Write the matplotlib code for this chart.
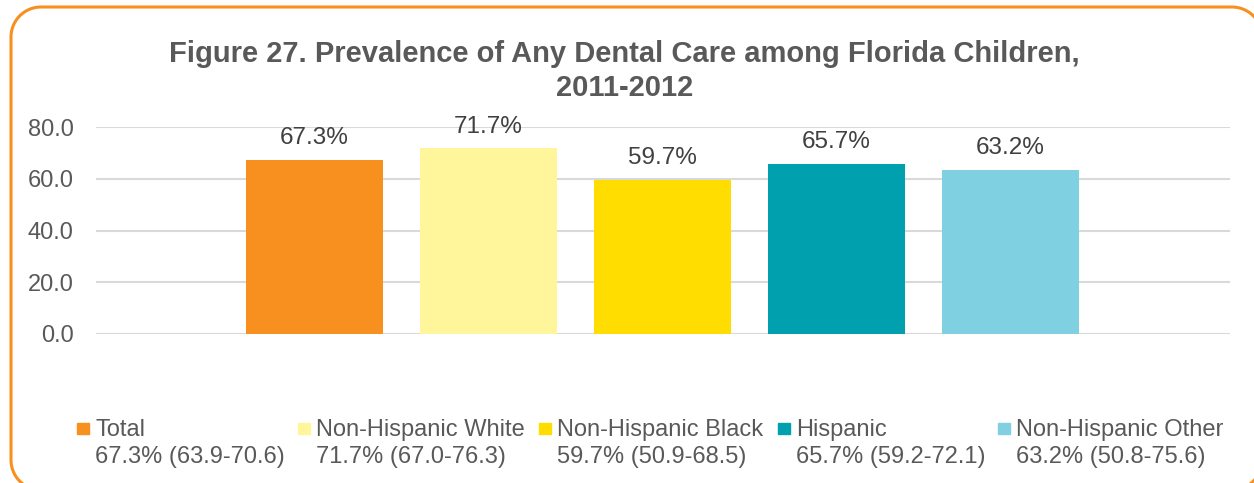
import numpy as np
import matplotlib.pyplot as plt
from matplotlib.patches import Polygon, Rectangle

# datos de la figura
grupos = ['Total', 'Non-Hispanic White', 'Non-Hispanic Black', 'Hispanic', 'Non-Hispanic Other']
valores = [67.3, 71.7, 59.7, 65.7, 63.2]
intervalos = ['67.3% (63.9-70.6)', '71.7% (67.0-76.3)', '59.7% (50.9-68.5)',
              '65.7% (59.2-72.1)', '63.2% (50.8-75.6)']
colores = ['#F7901E', '#FFF59A', '#FFDD00', '#00A0AF', '#7FD0E0']
yticks = [0, 20, 40, 60, 80]

gris = '#595959'
plt.rcParams['font.family'] = ['Liberation Sans', 'DejaVu Sans']

W, H = 1254, 483
fig = plt.figure(figsize=(W / 100, H / 100), dpi=100)

# marco redondeado naranja (en pixeles, y hacia abajo)
def marco_redondeado(x0, y0, x1, y1, r):
    pts = []
    esquinas = [(x1 - r, y0 + r, -90, 0), (x1 - r, y1 - r, 0, 90),
                (x0 + r, y1 - r, 90, 180), (x0 + r, y0 + r, 180, 270)]
    for cx, cy, a0, a1 in esquinas:
        a = np.radians(np.linspace(a0, a1, 20))
        pts += list(zip(cx + r * np.cos(a), cy + r * np.sin(a)))
    return [(px / W, 1 - py / H) for px, py in pts]

fig.patches.append(Polygon(marco_redondeado(11, 7, 1262, 490, 30), closed=True,
                           fill=False, edgecolor='#F7901E', linewidth=2.2,
                           transform=fig.transFigure))

ax = fig.add_axes([96 / W, 1 - 334 / H, 1134 / W, 207 / H])
x = list(range(len(valores)))
ax.bar(x, valores, width=137 / 174, color=colores, zorder=3)
for xi, v in zip(x, valores):
    ax.annotate('%.1f%%' % v, (xi, v), xytext=(0, 11.5), textcoords='offset points',
                ha='center', va='baseline', fontsize=17.5, color='#404040')

ax.set_xlim(-1.256, 5.261)
ax.set_ylim(0, 80)
ax.set_yticks(yticks)
ax.set_yticklabels(['%.1f' % t for t in yticks])
ax.tick_params(axis='y', length=0, pad=16, labelsize=17, labelcolor=gris)
ax.set_xticks([])
ax.grid(axis='y', color='#D9D9D9', linewidth=1.5, zorder=0)
for s in ax.spines.values():
    s.set_visible(False)
ax.set_facecolor('none')

fig.text(624.5 / W, 1 - 62 / H, 'Figure 27. Prevalence of Any Dental Care among Florida Children,',
         ha='center', va='baseline', fontsize=21, fontweight='bold', color=gris)
fig.text(624.5 / W, 1 - 96 / H, '2011-2012',
         ha='center', va='baseline', fontsize=21, fontweight='bold', color=gris)

# leyenda manual
marcas_x = [77, 298, 539, 778, 998]
for mx, g, it, c in zip(marcas_x, grupos, intervalos, colores):
    fig.patches.append(Rectangle((mx / W, 1 - 434 / H), 12 / W, 11 / H,
                                 transform=fig.transFigure, color=c))
    fig.text((mx + 18) / W, 1 - 436 / H, g, ha='left', va='baseline', fontsize=17, color=gris)
    fig.text((mx + 18) / W, 1 - 463 / H, it, ha='left', va='baseline', fontsize=17, color=gris)

fig.savefig('out.png', dpi=100)
